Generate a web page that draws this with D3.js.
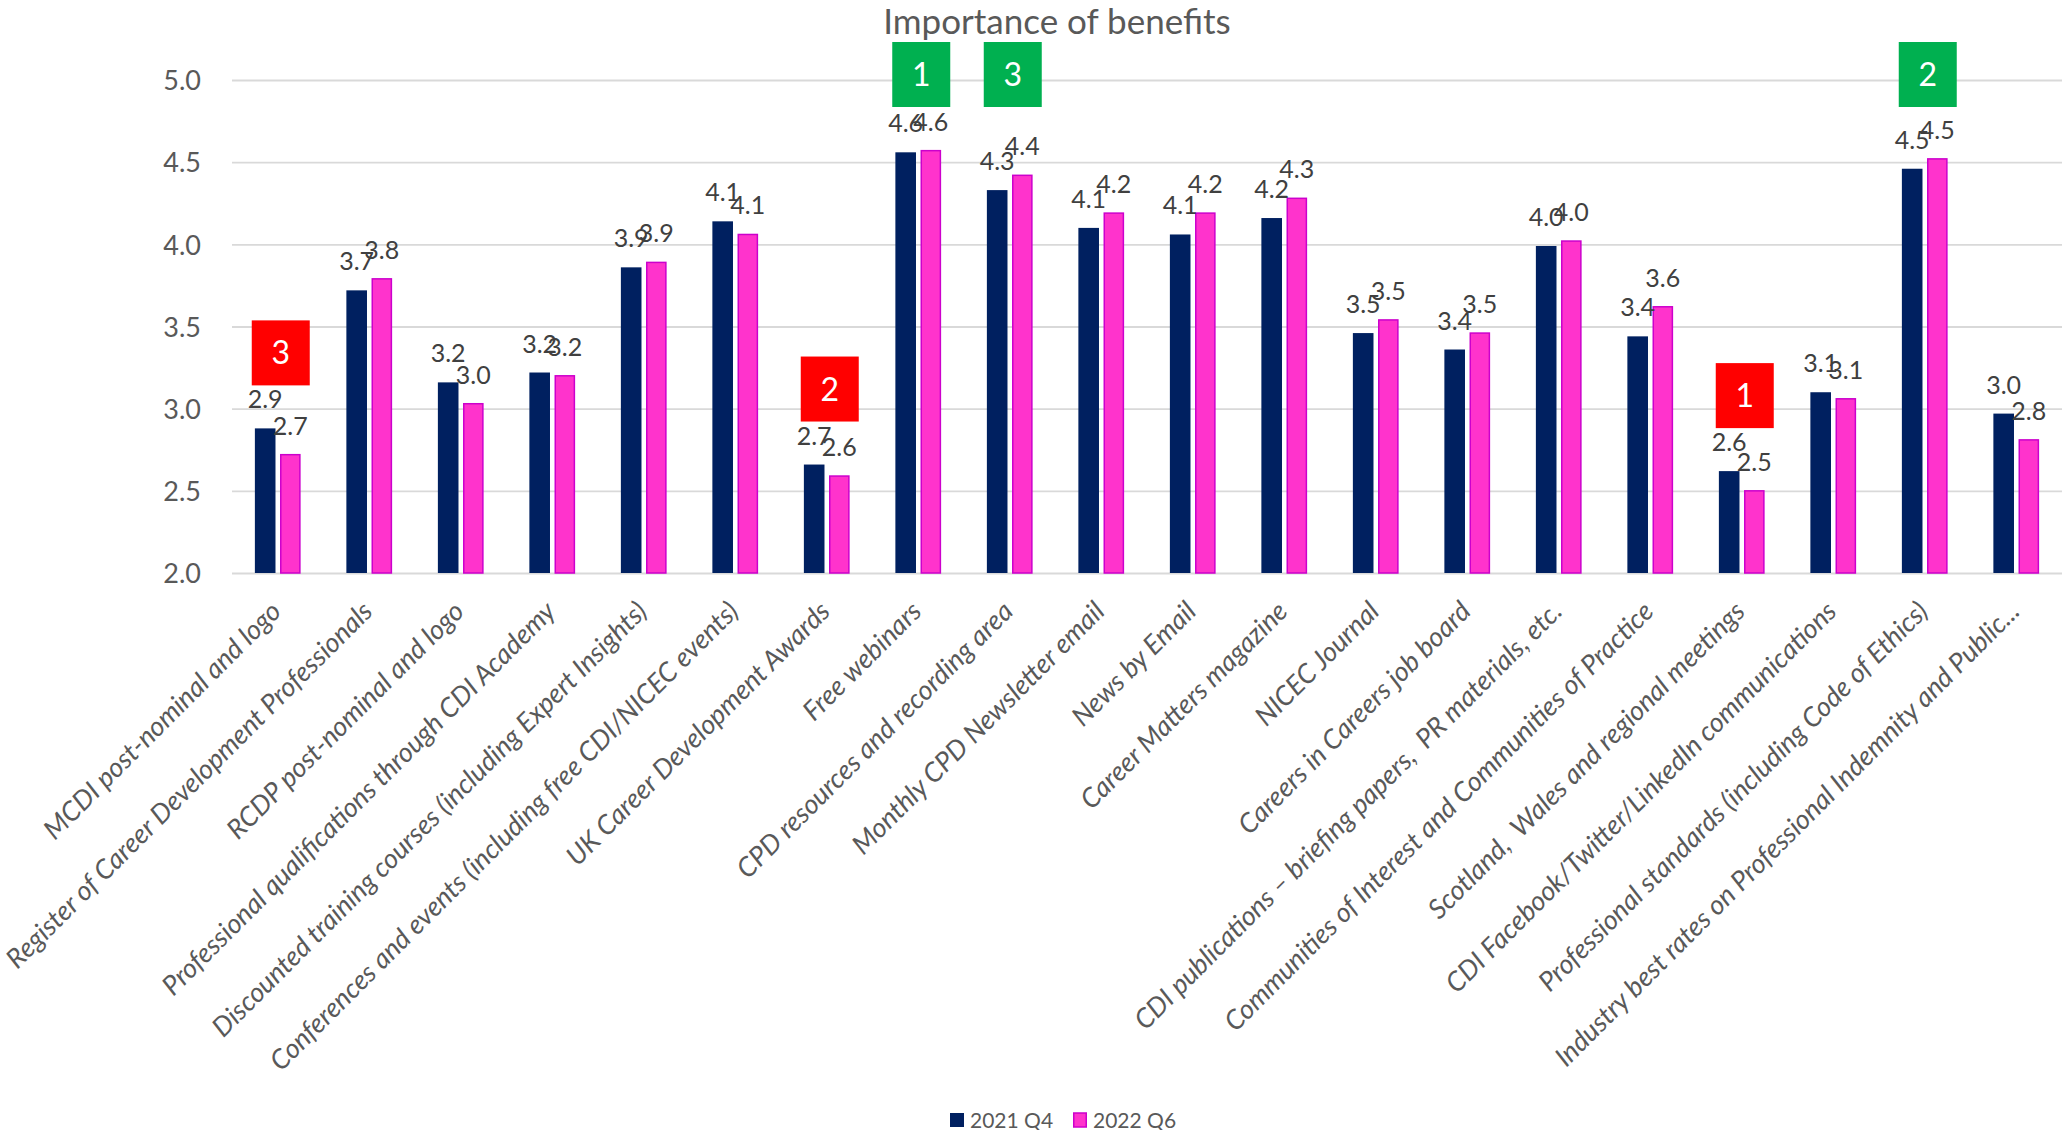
<!DOCTYPE html>
<html>
<head>
<meta charset="utf-8">
<script src="https://cdn.jsdelivr.net/npm/d3@7"></script>
<style>
  html, body { margin: 0; padding: 0; background: #fff; }
  svg { display: block; font-family: Lato, "Noto Sans", sans-serif; }
</style>
</head>
<body>
<svg id="chart" width="2064" height="1130"></svg>
<script>
// Benefit categories, in display order
const categories = [
  "MCDI post-nominal and logo",
  "Register of Career Development Professionals",
  "RCDP post-nominal and logo",
  "Professional qualifications through CDI Academy",
  "Discounted training courses (including Expert Insights)",
  "Conferences and events (including free CDI/NICEC events)",
  "UK Career Development Awards",
  "Free webinars",
  "CPD resources and recording area",
  "Monthly CPD Newsletter email",
  "News by Email",
  "Career Matters magazine",
  "NICEC Journal",
  "Careers in Careers job board",
  "CDI publications \u2013 briefing papers,  PR materials, etc.",
  "Communities of Interest and Communities of Practice",
  "Scotland,  Wales and regional meetings",
  "CDI Facebook/Twitter/LinkedIn communications",
  "Professional standards (including Code of Ethics)",
  "Industry best rates on Professional Indemnity and Public..."
];

// Mean importance scores per survey
const series2021Q4 = [2.88, 3.72, 3.16, 3.22, 3.86, 4.14, 2.66, 4.56, 4.33, 4.10,
                      4.06, 4.16, 3.46, 3.36, 3.99, 3.44, 2.62, 3.10, 4.46, 2.97];
const series2022Q6 = [2.72, 3.79, 3.03, 3.20, 3.89, 4.06, 2.59, 4.57, 4.42, 4.19,
                      4.19, 4.28, 3.54, 3.46, 4.02, 3.62, 2.50, 3.06, 4.52, 2.81];

const seriesNames = ["2021 Q4", "2022 Q6"];
const yTicks = [2.0, 2.5, 3.0, 3.5, 4.0, 4.5, 5.0];

// Ranked callouts: top three (green) and bottom three (red)
const rankCategory = [7, 18, 8, 16, 6, 0];
const rankNumber   = [1, 2, 3, 1, 2, 3];
const rankGroup    = ["top", "top", "top", "bottom", "bottom", "bottom"];

const colors = { navy: "#002060", pink: "#FF33CC", pinkEdge: "#CC00CC",
                 top: "#00B050", bottom: "#FF0000", grid: "#D9D9D9",
                 axisText: "#595959", valueText: "#404040" };

const W = 2064, H = 1130;
const margin = { left: 232, right: 2, top: 80, bottom: 557 };
const svg = d3.select("#chart");

const x = d3.scaleBand()
  .domain(d3.range(categories.length))
  .range([margin.left, W - margin.right])
  .paddingInner(0).paddingOuter(0);

const y = d3.scaleLinear().domain([2, 5]).range([H - margin.bottom, margin.top]);

const sub = d3.scaleBand().domain([0, 1])
  .range([x.bandwidth() * 0.25, x.bandwidth() * 0.75])
  .paddingInner(0.18);

// Title
svg.append("text")
  .attr("x", 1057).attr("y", 34)
  .attr("text-anchor", "middle")
  .attr("font-size", 35)
  .attr("fill", colors.axisText)
  .text("Importance of benefits");

// Gridlines and y axis labels
const yAxis = d3.axisLeft(y)
  .tickValues(yTicks)
  .tickFormat(d3.format(".1f"))
  .tickSize(-(W - margin.right - margin.left))
  .tickPadding(31);

const gy = svg.append("g")
  .attr("transform", `translate(${margin.left},0)`)
  .call(yAxis);
gy.select(".domain").remove();
gy.selectAll(".tick line").attr("stroke", colors.grid).attr("stroke-width", 1.8);
gy.selectAll(".tick text")
  .attr("font-size", 27)
  .attr("font-family", "Lato, sans-serif")
  .attr("fill", colors.axisText)
  .attr("dy", "0.36em");

// Bars
const seriesData = [series2021Q4, series2022Q6];
const groups = svg.append("g").selectAll("g")
  .data(categories.map((c, i) => ({ i, vals: seriesData.map(s => s[i]) })))
  .join("g")
  .attr("transform", d => `translate(${x(d.i)},0)`);

groups.selectAll("rect")
  .data(d => d.vals.map((v, k) => ({ v, k })))
  .join("rect")
  .attr("x", d => sub(d.k) + (d.k === 1 ? 0.75 : 0))
  .attr("width", d => sub.bandwidth() - (d.k === 1 ? 1.5 : 0))
  .attr("y", d => y(d.v))
  .attr("height", d => y(2) - y(d.v))
  .attr("fill", d => d.k === 0 ? colors.navy : colors.pink)
  .attr("stroke", d => d.k === 0 ? "none" : colors.pinkEdge)
  .attr("stroke-width", 1.5);

// Value labels
groups.selectAll("text.val")
  .data(d => d.vals.map((v, k) => ({ v, k })))
  .join("text")
  .attr("class", "val")
  .attr("x", d => sub(d.k) + sub.bandwidth() / 2)
  .attr("y", d => y(d.v) - 20)
  .attr("text-anchor", "middle")
  .attr("font-size", 25)
  .attr("fill", colors.valueText)
  .text(d => d3.format(".1f")(d.v));

// Category labels, rotated
svg.append("g").selectAll("text")
  .data(categories)
  .join("text")
  .attr("transform", (d, i) => `translate(${x(i) + x.bandwidth() / 2 + 5},${y(2) + 40}) rotate(-45)`)
  .attr("text-anchor", "end")
  .attr("font-size", 27)
  .attr("font-style", "italic")
  .attr("fill", colors.axisText)
  .style("white-space", "pre")
  .text(d => d);

// Rank callout boxes
const boxW = 58, boxH = 65;
const ranks = rankCategory.map((c, j) => ({ c, n: rankNumber[j], g: rankGroup[j] }));
const callouts = svg.append("g").selectAll("g")
  .data(ranks)
  .join("g")
  .attr("transform", d => {
    const cx = x(d.c) + x.bandwidth() / 2 + 3;
    const top = d.g === "top"
      ? 42
      : y(Math.max(series2021Q4[d.c], series2022Q6[d.c])) - 43 - boxH;
    return `translate(${cx - boxW / 2},${top})`;
  });
callouts.append("rect")
  .attr("width", boxW).attr("height", boxH)
  .attr("fill", d => colors[d.g]);
callouts.append("text")
  .attr("x", boxW / 2).attr("y", boxH / 2)
  .attr("dy", "0.36em")
  .attr("text-anchor", "middle")
  .attr("font-size", 32)
  .attr("fill", "#fff")
  .text(d => d.n);

// Legend
const legend = svg.append("g");
const legendX = [950, 1073];
seriesNames.forEach((name, k) => {
  legend.append("rect")
    .attr("x", legendX[k] + (k === 1 ? 0.75 : 0)).attr("y", 1113)
    .attr("width", 14 - (k === 1 ? 1.5 : 0)).attr("height", 14)
    .attr("fill", k === 0 ? colors.navy : colors.pink)
    .attr("stroke", k === 0 ? "none" : colors.pinkEdge)
    .attr("stroke-width", 1.5);
  legend.append("text")
    .attr("x", legendX[k] + 20).attr("y", 1127.5)
    .attr("font-size", 21)
    .attr("fill", colors.axisText)
    .text(name);
});
</script>
</body>
</html>
